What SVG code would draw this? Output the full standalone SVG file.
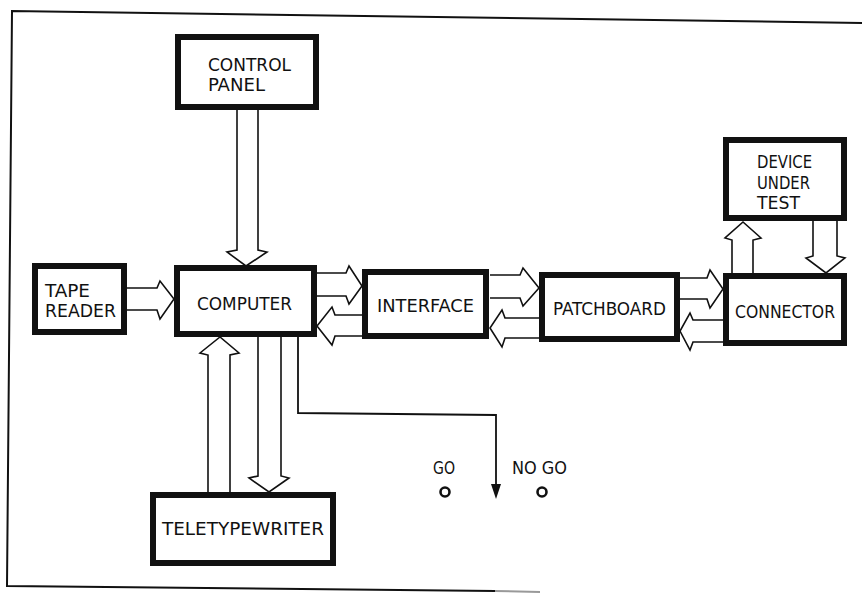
<svg xmlns="http://www.w3.org/2000/svg" width="862" height="594" viewBox="0 0 862 594">
<style>
.box{fill:#fff;stroke:#111;stroke-width:6}
.lbl{font-family:"DejaVu Sans Condensed","DejaVu Sans",sans-serif;font-size:18px;fill:#111}
.bus{fill:#fff;stroke:#111;stroke-width:1.6;stroke-linejoin:miter}
.wire{fill:none;stroke:#111;stroke-width:1.8}
.frame{fill:none;stroke:#111;stroke-width:2}
</style>
<rect width="862" height="594" fill="#fff"/>
<g id="frame">
<path class="frame" d="M862,23 L12,11 L7,586 L495,591"/>
<path d="M495,591 L540,592" stroke="#999" stroke-width="2" fill="none"/>
</g>
<g id="connectors">
<path class="bus" d="M237,110 L237,250 L227,252 L246,266 L267,252 L258,250 L258,110"/>
<path class="bus" d="M127,288 L157,288 L160,281 L174,299 L160,319 L157,310 L127,310"/>
<path class="bus" d="M317,273 L346,273 L349,266 L362,286 L349,304 L346,296 L317,296"/>
<path class="bus" d="M362,315 L335,315 L332,307 L317,326 L332,345 L335,336 L362,336"/>
<path class="bus" d="M490,275 L520,275 L523,268 L539,288 L523,306 L520,298 L490,298"/>
<path class="bus" d="M539,318 L505,318 L502,310 L490,328 L502,347 L505,338 L539,338"/>
<path class="bus" d="M680,278 L707,278 L710,270 L723,289 L710,308 L707,299 L680,299"/>
<path class="bus" d="M723,320 L693,320 L690,313 L680,331 L690,350 L693,342 L723,342"/>
<path class="bus" d="M732,273 L732,240 L725,238 L743,222 L761,238 L753,240 L753,273"/>
<path class="bus" d="M813,220 L813,256 L806,258 L826,273 L845,258 L837,256 L837,220"/>
<path class="bus" d="M208,492 L208,355 L200,353 L220,337 L239,353 L230,355 L230,492"/>
<path class="bus" d="M258,337 L258,476 L249,478 L269,492 L289,478 L281,476 L281,337"/>
<path class="wire" d="M298,337 L298,413 L496,415 L496,486"/>
<polygon points="491,484 501,484 496,499" fill="#111"/>
</g>
<g id="control-panel">
<rect class="box" x="178" y="37" width="138" height="70"/>
<text class="lbl" x="208" y="71" textLength="83" lengthAdjust="spacingAndGlyphs">CONTROL</text>
<text class="lbl" x="208" y="91" textLength="57" lengthAdjust="spacingAndGlyphs">PANEL</text>
</g>
<g id="tape-reader">
<rect class="box" x="35" y="266" width="89" height="66"/>
<text class="lbl" x="45" y="297" textLength="45" lengthAdjust="spacingAndGlyphs">TAPE</text>
<text class="lbl" x="45" y="317" textLength="71" lengthAdjust="spacingAndGlyphs">READER</text>
</g>
<g id="computer">
<rect class="box" x="177" y="268" width="137" height="66"/>
<text class="lbl" x="197" y="310" textLength="95" lengthAdjust="spacingAndGlyphs">COMPUTER</text>
</g>
<g id="interface">
<rect class="box" x="365" y="272" width="121" height="64"/>
<text class="lbl" x="377" y="312" textLength="97" lengthAdjust="spacingAndGlyphs">INTERFACE</text>
</g>
<g id="patchboard">
<rect class="box" x="542" y="275" width="135" height="64"/>
<text class="lbl" x="553" y="315" textLength="113" lengthAdjust="spacingAndGlyphs">PATCHBOARD</text>
</g>
<g id="connector">
<rect class="box" x="726" y="276" width="118" height="67"/>
<text class="lbl" x="735" y="318" textLength="100" lengthAdjust="spacingAndGlyphs">CONNECTOR</text>
</g>
<g id="device-under-test">
<rect class="box" x="726" y="140" width="118" height="78"/>
<text class="lbl" x="757" y="168" textLength="55" lengthAdjust="spacingAndGlyphs">DEVICE</text>
<text class="lbl" x="757" y="189" textLength="53" lengthAdjust="spacingAndGlyphs">UNDER</text>
<text class="lbl" x="757" y="209" textLength="43" lengthAdjust="spacingAndGlyphs">TEST</text>
</g>
<g id="teletypewriter">
<rect class="box" x="153" y="495" width="180" height="68"/>
<text class="lbl" x="162" y="535" textLength="162" lengthAdjust="spacingAndGlyphs">TELETYPEWRITER</text>
</g>
<g id="go">
<text class="lbl" x="433" y="474" textLength="22" lengthAdjust="spacingAndGlyphs">GO</text>
<circle cx="445" cy="492" r="4.5" fill="none" stroke="#111" stroke-width="2.6"/>
</g>
<g id="no-go">
<text class="lbl" x="512" y="474" textLength="55" lengthAdjust="spacingAndGlyphs">NO GO</text>
<circle cx="542" cy="492" r="4.5" fill="none" stroke="#111" stroke-width="2.6"/>
</g>
</svg>
